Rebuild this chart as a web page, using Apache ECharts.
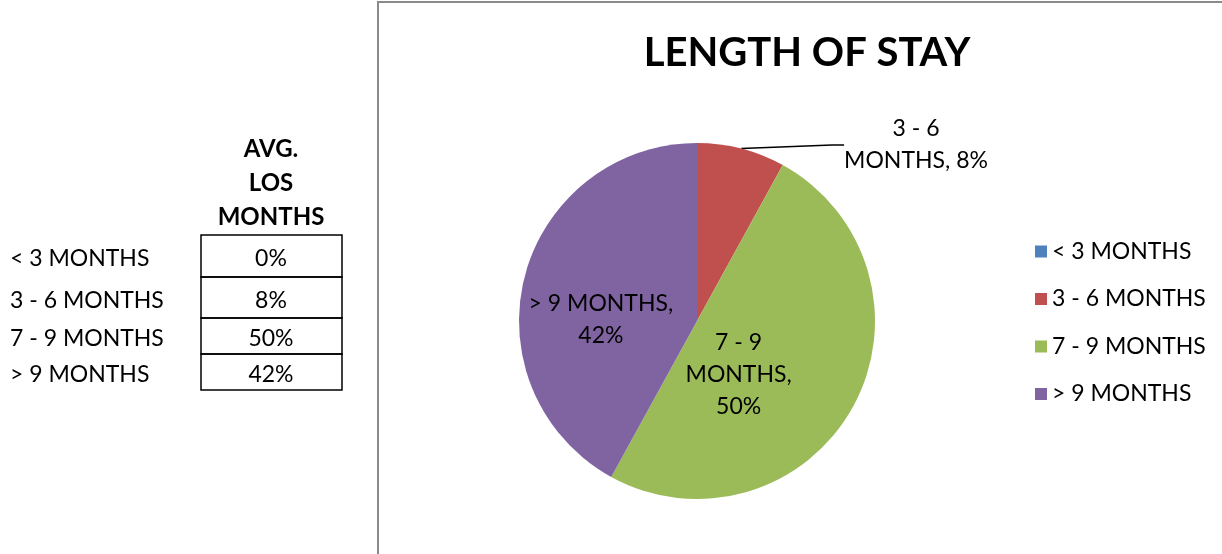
<!DOCTYPE html>
<html>
<head>
<meta charset="utf-8">
<script src="https://cdn.jsdelivr.net/npm/echarts@6/dist/echarts.min.js"></script>
<style>
  html, body { margin: 0; padding: 0; background: #fff; }
  #chart { width: 1222px; height: 554px; }
</style>
</head>
<body>
<div id="chart"></div>
<script>
// data
const categories = ["< 3 MONTHS", "3 - 6 MONTHS", "7 - 9 MONTHS", "> 9 MONTHS"];
const shares = [0, 8, 50, 42];
const tableHeader = ["AVG.", "LOS", "MONTHS"];
// how each slice label wraps (Excel style)
const sliceLabels = ["", "3 - 6\nMONTHS, {p}%", "7 - 9\nMONTHS,\n{p}%", "> 9 MONTHS,\n{p}%"];

const colors = ["#4F81BD", "#C0504D", "#9BBB59", "#8064A2"];
const font = "Lato, 'Open Sans', sans-serif";

const chart = echarts.init(document.getElementById("chart"));

// left-hand table built from the same arrays
const rowY = [235, 277, 318, 354, 390];
const tableGraphics = [];
tableHeader.forEach((t, i) => {
  tableGraphics.push({
    type: "text",
    x: 271, y: 149 + i * 34,
    style: { text: t, font: "bold 24px " + font, fill: "#000", align: "center", verticalAlign: "middle" }
  });
});
categories.forEach((c, i) => {
  const mid = (rowY[i] + rowY[i + 1]) / 2 + 3;
  tableGraphics.push({
    type: "text",
    x: 10, y: mid,
    style: { text: c, font: "23px " + font, fill: "#000", align: "left", verticalAlign: "middle" }
  });
  tableGraphics.push({
    type: "rect",
    shape: { x: 201, y: rowY[i], width: 141, height: rowY[i + 1] - rowY[i] },
    style: { fill: "none", stroke: "#000", lineWidth: 1.5 }
  });
  tableGraphics.push({
    type: "text",
    x: 271, y: mid,
    style: { text: shares[i] + "%", font: "23px " + font, fill: "#000", align: "center", verticalAlign: "middle" }
  });
});

const option = {
  color: colors,
  title: {
    text: "LENGTH OF STAY",
    left: 802,
    top: 28,
    textAlign: "center",
    textStyle: { fontFamily: font, fontWeight: "bold", fontSize: 40, color: "#000" }
  },
  legend: {
    orient: "vertical",
    left: 1030,
    top: 235,
    icon: "rect",
    itemWidth: 12,
    itemHeight: 12,
    itemGap: 24.5,
    data: categories,
    textStyle: { fontFamily: font, fontSize: 23, color: "#000" }
  },
  graphic: [
    {
      type: "rect",
      shape: { x: 378, y: 2, width: 900, height: 600 },
      style: { fill: "none", stroke: "#8a8a8a", lineWidth: 2 },
      z: -1
    }
  ].concat(tableGraphics),
  series: [
    {
      type: "pie",
      center: [697, 321],
      radius: 178,
      startAngle: 90,
      clockwise: true,
      avoidLabelOverlap: false,
      emphasis: { disabled: true },
      itemStyle: { borderWidth: 0 },
      label: {
        fontFamily: font,
        fontSize: 23,
        lineHeight: 32,
        color: "#000",
        align: "center",
        formatter: (p) => sliceLabels[p.dataIndex].replace("{p}", p.value)
      },
      labelLine: { lineStyle: { color: "#000", width: 1.5 }, length: 30, length2: 12 },
      labelLayout: (p) => {
        if (p.dataIndex === 1) return { x: 916, y: 145, align: "center", verticalAlign: "middle" };
        if (p.dataIndex === 2) return { dx: -39, dy: 9 };
        if (p.dataIndex === 3) return { dx: -7, dy: 21 };
        return {};
      },
      data: categories.map((c, i) => ({
        name: c,
        value: shares[i],
        label: { show: shares[i] > 0, position: i === 1 ? "outside" : "inside" },
        labelLine: { show: i === 1 }
      }))
    }
  ]
};
chart.setOption(option);
</script>
</body>
</html>
